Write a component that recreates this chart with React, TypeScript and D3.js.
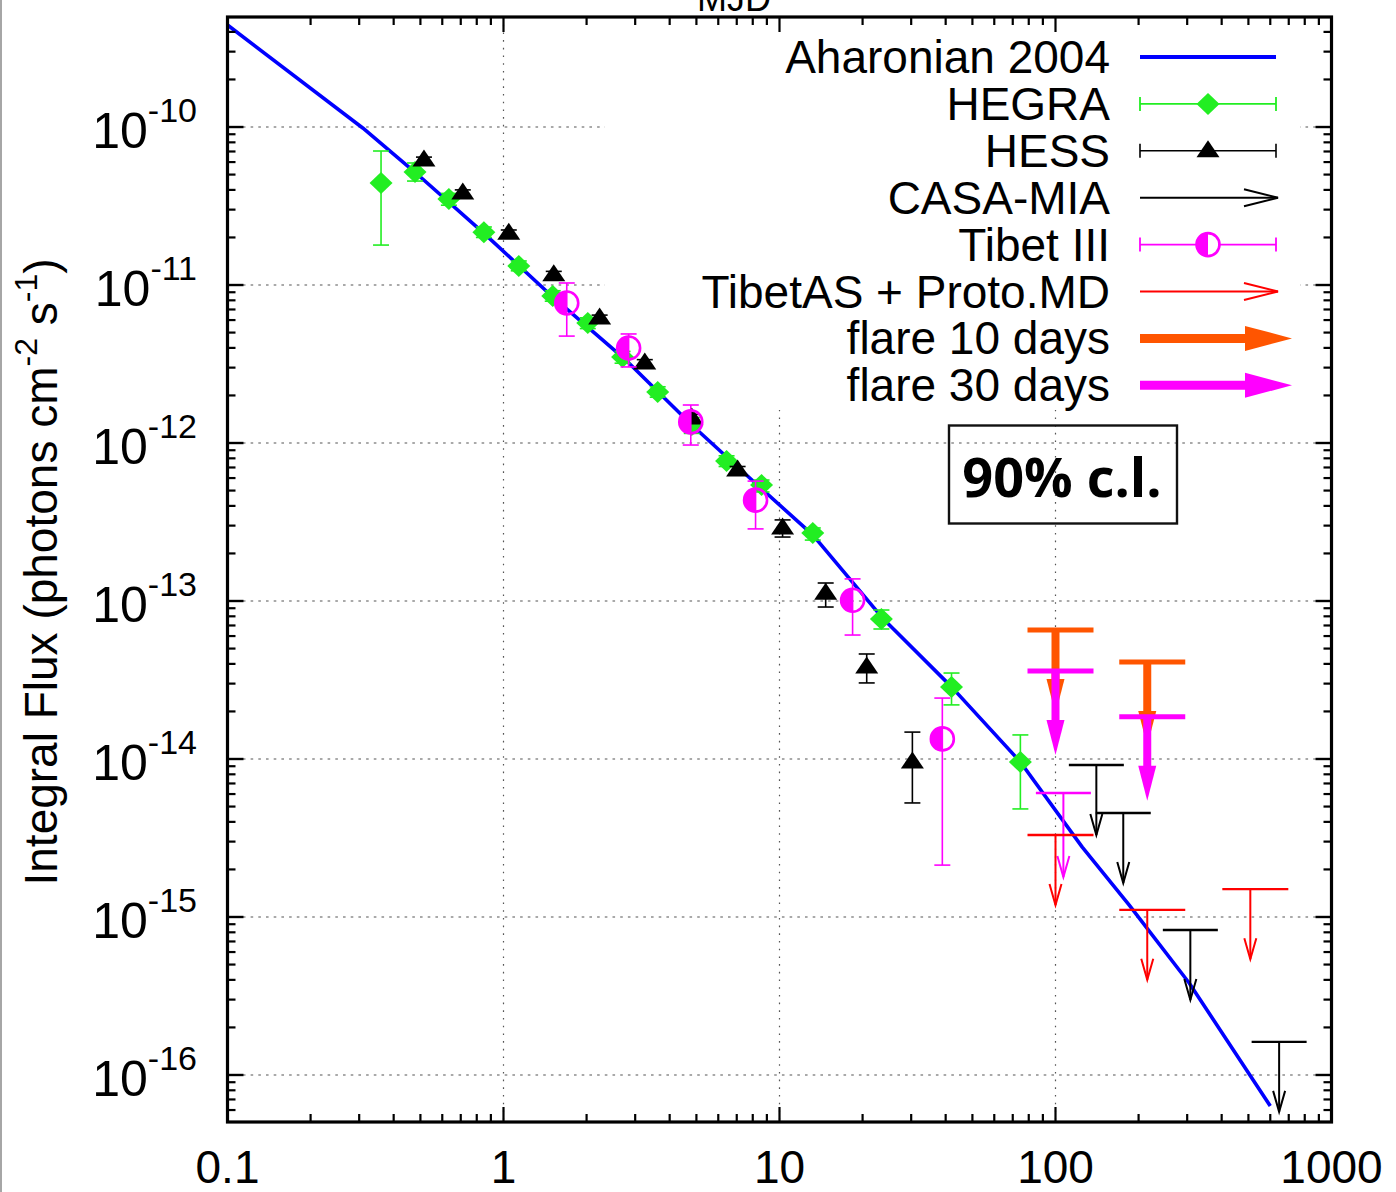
import React from 'react';
import * as d3 from 'd3';

const WIDTH = 1396;
const HEIGHT = 1192;

// ---------------- data ----------------
const X_DOMAIN = [0.1, 1000];
const Y_DOMAIN = [4.97e-10, 5.04e-17];
const X_TICKS = [0.1, 1, 10, 100, 1000];
const X_TICK_LABELS = ['0.1', '1', '10', '100', '1000'];
const Y_TICK_EXPONENTS = [-10, -11, -12, -13, -14, -15, -16];
const X_GRID = [1, 10, 100];

// Aharonian 2004 model curve
const MODEL_X = [0.1, 0.309, 0.477, 0.856, 1.508, 2.75, 4.81, 8.47, 13.2, 23.6, 42.0, 74.6, 125, 185, 305, 600];
const MODEL_Y = [4.42e-10, 9.86e-11, 5.19e-11, 2.1e-11, 8.4e-12, 3.4e-12, 1.3e-12, 5.27e-13, 2.62e-13, 7.81e-14, 2.86e-14, 9.57e-15, 2.77e-15, 1.19e-15, 3.82e-16, 6.37e-17];

// HEGRA
const HEGRA_X = [0.36, 0.478, 0.634, 0.849, 1.136, 1.508, 2.02, 2.7, 3.62, 4.81, 6.43, 8.61, 13.2, 23.4, 42.0, 74.6];
const HEGRA_Y = [4.42e-11, 5.19e-11, 3.5e-11, 2.16e-11, 1.32e-11, 8.51e-12, 5.74e-12, 3.5e-12, 2.1e-12, 1.3e-12, 7.69e-13, 5.42e-13, 2.69e-13, 7.69e-14, 2.86e-14, 9.57e-15];
const HEGRA_LO = [1.79e-11, 4.55e-11, 3.2e-11, 2.0e-11, 1.23e-11, 7.9e-12, 5.3e-12, 3.2e-12, 1.95e-12, 1.15e-12, 7.1e-13, 4.9e-13, 2.43e-13, 6.65e-14, 2.2e-14, 4.83e-15];
const HEGRA_HI = [7.05e-11, 5.92e-11, 3.8e-11, 2.33e-11, 1.42e-11, 9.2e-12, 6.2e-12, 3.8e-12, 2.27e-12, 1.45e-12, 8.3e-13, 5.83e-13, 2.9e-13, 8.77e-14, 3.5e-14, 1.42e-14];

// HESS
const HESS_X = [0.515, 0.712, 1.045, 1.521, 2.23, 3.25, 4.81, 7.05, 10.26, 14.7, 20.7, 30.3];
const HESS_Y = [6.18e-11, 3.82e-11, 2.13e-11, 1.16e-11, 6.18e-12, 3.21e-12, 1.44e-12, 6.75e-13, 2.9e-13, 1.12e-13, 3.82e-14, 9.57e-15];
const HESS_LO = [5.9e-11, 3.65e-11, 2.03e-11, 1.1e-11, 5.9e-12, 3.05e-12, 1.36e-12, 6.4e-13, 2.54e-13, 9.16e-14, 3.03e-14, 5.27e-15];
const HESS_HI = [6.45e-11, 4.0e-11, 2.23e-11, 1.22e-11, 6.45e-12, 3.37e-12, 1.52e-12, 7.1e-13, 3.26e-13, 1.3e-13, 4.62e-14, 1.48e-14];

// Tibet III
const TIBET_X = [1.695, 2.84, 4.77, 8.19, 18.4, 38.9];
const TIBET_Y = [7.69e-12, 3.99e-12, 1.36e-12, 4.35e-13, 1.01e-13, 1.34e-14];
const TIBET_LO = [4.75e-12, 3.03e-12, 9.71e-13, 2.86e-13, 6.09e-14, 2.13e-15];
const TIBET_HI = [1.03e-11, 4.9e-12, 1.74e-12, 5.74e-13, 1.38e-13, 2.43e-14];

// upper limits
const TIBET_UL_X = [106.8];
const TIBET_UL_Y = [6.09e-15];
const CASA_X = [140.6, 176, 308, 646];
const CASA_Y = [9.16e-15, 4.55e-15, 8.28e-16, 1.62e-16];
const TIBETAS_X = [100, 215, 508];
const TIBETAS_Y = [3.3e-15, 1.11e-15, 1.5e-15];
const FLARE10_X = [100, 215];
const FLARE10_Y = [6.55e-14, 4.11e-14];
const FLARE30_X = [100, 215];
const FLARE30_Y = [3.61e-14, 1.85e-14];

const LEGEND_LABELS = ['Aharonian 2004', 'HEGRA', 'HESS', 'CASA-MIA', 'Tibet III', 'TibetAS + Proto.MD', 'flare 10 days', 'flare 30 days'];

// ---------------- styles ----------------
const BLUE = '#0000ff';
const GREEN = '#22ee22';
const MAGENTA = '#ff00ff';
const RED = '#ff0000';
const ORANGE = '#ff5500';
const FONT = '"Liberation Sans", Arial, Helvetica, sans-serif';

const PLOT = { left: 227.5, right: 1331.5, top: 17, bottom: 1122 };

type ArrowStyle = {
  color: string; barL: number; barR: number; len: number; stemW: number; barW: number;
  headLen: number; headHalf: number; filled: boolean;
};

const THIN_BLACK: ArrowStyle = { color: '#000', barL: 27.5, barR: 27.5, len: 70, stemW: 2, barW: 2.4, headLen: 21, headHalf: 6, filled: false };
const THIN_MAG: ArrowStyle = { ...THIN_BLACK, color: MAGENTA, len: 84 };
const THIN_RED: ArrowStyle = { ...THIN_BLACK, color: RED, barL: 28, barR: 38 };
const THICK_ORANGE: ArrowStyle = { color: ORANGE, barL: 28, barR: 38, len: 84, stemW: 8, barW: 5, headLen: 35, headHalf: 9, filled: true };
const THICK_MAG: ArrowStyle = { ...THICK_ORANGE, color: MAGENTA };

function UpperLimit({ px, py, s }: { px: number; py: number; s: ArrowStyle }) {
  const tip = py + s.len;
  const headBase = tip - s.headLen;
  return (
    <g>
      <line x1={px - s.barL} x2={px + s.barR} y1={py} y2={py} stroke={s.color} strokeWidth={s.barW} />
      <line x1={px} x2={px} y1={py} y2={s.filled ? headBase + 1 : tip} stroke={s.color} strokeWidth={s.stemW} />
      {s.filled ? (
        <polygon points={`${px - s.headHalf},${headBase} ${px + s.headHalf},${headBase} ${px},${tip}`} fill={s.color} />
      ) : (
        <polyline points={`${px - s.headHalf},${headBase} ${px},${tip} ${px + s.headHalf},${headBase}`} fill="none" stroke={s.color} strokeWidth={2} />
      )}
    </g>
  );
}

function Diamond({ cx, cy }: { cx: number; cy: number }) {
  return <polygon points={`${cx - 11.5},${cy} ${cx},${cy - 11} ${cx + 11.5},${cy} ${cx},${cy + 11}`} fill={GREEN} />;
}
function Triangle({ cx, cy }: { cx: number; cy: number }) {
  return <polygon points={`${cx},${cy - 10.5} ${cx + 11.5},${cy + 6.5} ${cx - 11.5},${cy + 6.5}`} fill="#000" />;
}
function HalfCircle({ cx, cy }: { cx: number; cy: number }) {
  const r = 11.5;
  return (
    <g>
      <path d={`M${cx},${cy - r} A${r},${r} 0 0 0 ${cx},${cy + r} Z`} fill={MAGENTA} />
      <circle cx={cx} cy={cy} r={r} fill="none" stroke={MAGENTA} strokeWidth={2.6} />
    </g>
  );
}

function ErrBar({ px, lo, hi, color, w }: { px: number; lo: number; hi: number; color: string; w: number }) {
  const cap = 8;
  return (
    <g stroke={color} strokeWidth={w}>
      <line x1={px} x2={px} y1={lo} y2={hi} />
      <line x1={px - cap} x2={px + cap} y1={lo} y2={lo} />
      <line x1={px - cap} x2={px + cap} y1={hi} y2={hi} />
    </g>
  );
}

export default function App() {
  const x = d3.scaleLog().domain(X_DOMAIN).range([PLOT.left, PLOT.right]);
  const y = d3.scaleLog().domain(Y_DOMAIN).range([PLOT.top, PLOT.bottom]);

  const modelPts: [number, number][] = MODEL_X.map((v, i) => [v, MODEL_Y[i]]);
  const line = d3.line<[number, number]>().x(d => x(d[0])).y(d => y(d[1]));

  // minor ticks
  const xMinor: number[] = [];
  for (let e = -1; e < 3; e++) for (let m = 2; m <= 9; m++) xMinor.push(m * Math.pow(10, e));
  const yMinor: number[] = [];
  for (let e = -17; e <= -10; e++) for (let m = 2; m <= 9; m++) {
    const v = m * Math.pow(10, e);
    if (v >= Y_DOMAIN[1] && v <= Y_DOMAIN[0]) yMinor.push(v);
  }
  const yMajor = Y_TICK_EXPONENTS.map(e => Math.pow(10, e));

  const legendRowY = (i: number) => 57 + i * 46.9;
  const LX0 = 1140, LX1 = 1276, LM = 1208;

  return (
    <svg width={WIDTH} height={HEIGHT} viewBox={`0 0 ${WIDTH} ${HEIGHT}`}
      style={{ position: 'absolute', left: 0, top: 0, display: 'block', background: '#fff' }}
      fontFamily={FONT}>
      <rect x={0} y={0} width={WIDTH} height={HEIGHT} fill="#fff" />
      {/* screenshot border */}
      <line x1={1} x2={1} y1={0} y2={HEIGHT} stroke="#888" strokeWidth={1.5} />

      {/* MJD (top label, partly outside the picture as in the original) */}
      <text x={734} y={11} fontSize={36} textAnchor="middle" fill="#000">MJD</text>

      {/* grid */}
      <g stroke="#555" strokeWidth={1.2} fill="none">
        {yMajor.map((v, i) => (
          <line key={'gy' + i} x1={PLOT.left} x2={PLOT.right} y1={y(v)} y2={y(v)} strokeDasharray="2.6,5.1" />
        ))}
        {X_GRID.map((v, i) => (
          <line key={'gx' + i} x1={x(v)} x2={x(v)} y1={PLOT.top} y2={PLOT.bottom} strokeDasharray="1.6,6.1" />
        ))}
      </g>

      {/* legend background (opaque key) */}
      <rect x={605} y={19} width={695} height={391} fill="#fff" />

      {/* model line */}
      <path d={line(modelPts) || ''} fill="none" stroke={BLUE} strokeWidth={3.6} strokeLinejoin="round" />

      {/* HEGRA */}
      <g>
        {HEGRA_X.map((v, i) => (
          <g key={'he' + i}>
            <ErrBar px={x(v)} lo={y(HEGRA_LO[i])} hi={y(HEGRA_HI[i])} color={GREEN} w={1.6} />
            <Diamond cx={x(v)} cy={y(HEGRA_Y[i])} />
          </g>
        ))}
      </g>

      {/* HESS */}
      <g>
        {HESS_X.map((v, i) => (
          <g key={'hs' + i}>
            <ErrBar px={x(v)} lo={y(HESS_LO[i])} hi={y(HESS_HI[i])} color="#000" w={1.6} />
            <Triangle cx={x(v)} cy={y(HESS_Y[i])} />
          </g>
        ))}
      </g>

      {/* CASA-MIA upper limits */}
      {CASA_X.map((v, i) => <UpperLimit key={'ca' + i} px={x(v)} py={y(CASA_Y[i])} s={THIN_BLACK} />)}

      {/* Tibet III */}
      <g>
        {TIBET_X.map((v, i) => (
          <g key={'tb' + i}>
            <ErrBar px={x(v)} lo={y(TIBET_LO[i])} hi={y(TIBET_HI[i])} color={MAGENTA} w={1.6} />
            <HalfCircle cx={x(v)} cy={y(TIBET_Y[i])} />
          </g>
        ))}
      </g>
      {TIBET_UL_X.map((v, i) => <UpperLimit key={'tu' + i} px={x(v)} py={y(TIBET_UL_Y[i])} s={THIN_MAG} />)}

      {/* TibetAS + Proto.MD */}
      {TIBETAS_X.map((v, i) => <UpperLimit key={'ta' + i} px={x(v)} py={y(TIBETAS_Y[i])} s={THIN_RED} />)}

      {/* flares */}
      {FLARE10_X.map((v, i) => <UpperLimit key={'f1' + i} px={x(v)} py={y(FLARE10_Y[i])} s={THICK_ORANGE} />)}
      {FLARE30_X.map((v, i) => <UpperLimit key={'f3' + i} px={x(v)} py={y(FLARE30_Y[i])} s={THICK_MAG} />)}

      {/* 90% c.l. box */}
      <rect x={949} y={425.5} width={228} height={98} fill="none" stroke="#111" strokeWidth={2.4} />
      <text x={1062} y={497} fontSize={54} fontWeight={700} textAnchor="middle"
        fontFamily='"Open Sans", "Noto Sans", sans-serif' fill="#000">90% c.l.</text>

      {/* legend */}
      <g fontSize={46} fill="#000">
        {LEGEND_LABELS.map((t, i) => (
          <text key={'lt' + i} x={1110} y={legendRowY(i) + 16} textAnchor="end">{t}</text>
        ))}
      </g>
      <g>
        {/* Aharonian */}
        <line x1={LX0} x2={LX1} y1={legendRowY(0)} y2={legendRowY(0)} stroke={BLUE} strokeWidth={4} />
        {/* HEGRA */}
        <g stroke={GREEN} strokeWidth={1.8}>
          <line x1={LX0} x2={LX1} y1={legendRowY(1)} y2={legendRowY(1)} />
          <line x1={LX0} x2={LX0} y1={legendRowY(1) - 7} y2={legendRowY(1) + 7} />
          <line x1={LX1} x2={LX1} y1={legendRowY(1) - 7} y2={legendRowY(1) + 7} />
        </g>
        <Diamond cx={LM} cy={legendRowY(1)} />
        {/* HESS */}
        <g stroke="#000" strokeWidth={1.6}>
          <line x1={LX0} x2={LX1} y1={legendRowY(2)} y2={legendRowY(2)} />
          <line x1={LX0} x2={LX0} y1={legendRowY(2) - 7} y2={legendRowY(2) + 7} />
          <line x1={LX1} x2={LX1} y1={legendRowY(2) - 7} y2={legendRowY(2) + 7} />
        </g>
        <Triangle cx={LM} cy={legendRowY(2)} />
        {/* CASA-MIA */}
        <g stroke="#000" strokeWidth={2} fill="none">
          <line x1={LX0} x2={1278} y1={legendRowY(3)} y2={legendRowY(3)} />
          <polyline points={`1244,${legendRowY(3) - 8.5} 1278,${legendRowY(3)} 1244,${legendRowY(3) + 8.5}`} />
        </g>
        {/* Tibet III */}
        <g stroke={MAGENTA} strokeWidth={1.8}>
          <line x1={LX0} x2={LX1} y1={legendRowY(4)} y2={legendRowY(4)} />
          <line x1={LX0} x2={LX0} y1={legendRowY(4) - 7} y2={legendRowY(4) + 7} />
          <line x1={LX1} x2={LX1} y1={legendRowY(4) - 7} y2={legendRowY(4) + 7} />
        </g>
        <rect x={LM} y={legendRowY(4) - 10} width={10} height={20} fill="#fff" />
        <HalfCircle cx={LM} cy={legendRowY(4)} />
        {/* TibetAS */}
        <g stroke={RED} strokeWidth={2} fill="none">
          <line x1={LX0} x2={1278} y1={legendRowY(5)} y2={legendRowY(5)} />
          <polyline points={`1244,${legendRowY(5) - 8.5} 1278,${legendRowY(5)} 1244,${legendRowY(5) + 8.5}`} />
        </g>
        {/* flare 10 */}
        <line x1={LX0} x2={1247} y1={legendRowY(6)} y2={legendRowY(6)} stroke={ORANGE} strokeWidth={9} />
        <polygon points={`1245,${legendRowY(6) - 12.5} 1292,${legendRowY(6)} 1245,${legendRowY(6) + 12.5}`} fill={ORANGE} />
        {/* flare 30 */}
        <line x1={LX0} x2={1247} y1={legendRowY(7)} y2={legendRowY(7)} stroke={MAGENTA} strokeWidth={9} />
        <polygon points={`1245,${legendRowY(7) - 12.5} 1292,${legendRowY(7)} 1245,${legendRowY(7) + 12.5}`} fill={MAGENTA} />
      </g>

      {/* axes frame and ticks */}
      <g stroke="#000">
        {X_TICKS.map((v, i) => (
          <g key={'xt' + i} strokeWidth={2.2}>
            <line x1={x(v)} x2={x(v)} y1={PLOT.bottom} y2={PLOT.bottom - 15} />
            <line x1={x(v)} x2={x(v)} y1={PLOT.top} y2={PLOT.top + 15} />
          </g>
        ))}
        {xMinor.map((v, i) => (
          <g key={'xm' + i} strokeWidth={2.2}>
            <line x1={x(v)} x2={x(v)} y1={PLOT.bottom} y2={PLOT.bottom - 8} />
            <line x1={x(v)} x2={x(v)} y1={PLOT.top} y2={PLOT.top + 8} />
          </g>
        ))}
        {yMajor.map((v, i) => (
          <g key={'yt' + i} strokeWidth={2.4}>
            <line x1={PLOT.left} x2={PLOT.left + 16} y1={y(v)} y2={y(v)} />
            <line x1={PLOT.right} x2={PLOT.right - 16} y1={y(v)} y2={y(v)} />
          </g>
        ))}
        {yMinor.map((v, i) => (
          <g key={'ym' + i} strokeWidth={2.2}>
            <line x1={PLOT.left} x2={PLOT.left + 8} y1={y(v)} y2={y(v)} />
            <line x1={PLOT.right} x2={PLOT.right - 8} y1={y(v)} y2={y(v)} />
          </g>
        ))}
        <rect x={PLOT.left} y={PLOT.top} width={PLOT.right - PLOT.left} height={PLOT.bottom - PLOT.top}
          fill="none" strokeWidth={3.2} />
      </g>

      {/* x tick labels */}
      <g fontSize={46} fill="#000" textAnchor="middle">
        {X_TICKS.map((v, i) => (
          <text key={'xl' + i} x={x(v)} y={1183}>{X_TICK_LABELS[i]}</text>
        ))}
      </g>

      {/* y tick labels */}
      <g fill="#000">
        {Y_TICK_EXPONENTS.map((e, i) => (
          <text key={'yl' + i} x={197} y={y(Math.pow(10, e)) + 21} textAnchor="end" fontSize={50}>
            10<tspan fontSize={34} dy={-26}>{String(e)}</tspan>
          </text>
        ))}
      </g>

      {/* y axis title */}
      <text transform="translate(57,572) rotate(-90)" textAnchor="middle" fontSize={46} fill="#000">
        Integral Flux (photons cm<tspan fontSize={32} dy={-20}>-2</tspan>
        <tspan dy={20}> s</tspan><tspan fontSize={32} dy={-20}>-1</tspan><tspan dy={20}>)</tspan>
      </text>
    </svg>
  );
}
